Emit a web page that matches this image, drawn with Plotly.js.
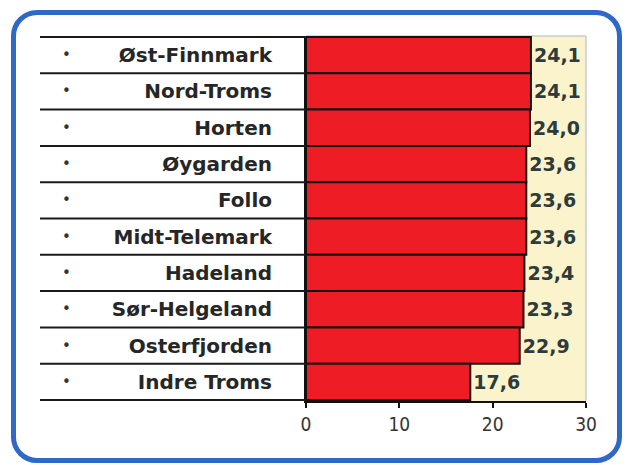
<!DOCTYPE html>
<html>
<head>
<meta charset="utf-8">
<script src="https://cdn.plot.ly/plotly-3.0.1.min.js"></script>
<style>
html,body{margin:0;padding:0;background:#fff;}
#wrap{position:relative;width:629px;height:465px;overflow:hidden;}
#chart{position:absolute;left:0;top:0;width:629px;height:465px;}
#frame{position:absolute;left:11px;top:10px;width:611px;height:453px;box-sizing:border-box;border:5px solid #3068c8;border-radius:26px;pointer-events:none;}
</style>
</head>
<body>
<div id="wrap"><div id="chart"></div><div id="frame"></div></div>
<script>
const regions = ["Øst-Finnmark","Nord-Troms","Horten","Øygarden","Follo","Midt-Telemark","Hadeland","Sør-Helgeland","Osterfjorden","Indre Troms"];
const values = [24.1,24.1,24.0,23.6,23.6,23.6,23.4,23.3,22.9,17.6];
const valueLabels = ["24,1","24,1","24,0","23,6","23,6","23,6","23,4","23,3","22,9","17,6"];
const xTicks = [0,10,20,30];

const shapes = [];
for (let i = 0; i <= regions.length; i++) {
  shapes.push({type:'line', xref:'paper', yref:'y', x0:-0.95, x1:0, y0:i-0.5, y1:i-0.5,
    line:{color:'#1a1a1a', width:2}});
}
shapes.push({type:'line', xref:'paper', yref:'paper', x0:1, x1:1, y0:0, y1:1, line:{color:'#a9b8c4', width:1}});
shapes.push({type:'line', xref:'paper', yref:'paper', x0:0, x1:1, y0:1, y1:1, line:{color:'#a9b8c4', width:1}, layer:'below'});

const annotations = regions.map(r => ({
  xref:'paper', yref:'y', x:-0.854, y:r, text:'•', showarrow:false,
  font:{family:'DejaVu Sans', size:15, color:'#333'}, xanchor:'center', yanchor:'middle'
}));

const trace = {
  type:'bar', orientation:'h', y:regions, x:values,
  text:valueLabels, textposition:'outside', cliponaxis:true,
  textfont:{family:'DejaVu Sans', size:19, color:'#2e3b3a', weight:'bold'},
  marker:{color:'#ee1c24', line:{color:'#111', width:2}},
  hoverinfo:'none'
};

const layout = {
  width:629, height:465,
  margin:{l:306, r:43, t:36, b:64, pad:0},
  paper_bgcolor:'rgba(0,0,0,0)',
  plot_bgcolor:'#fbf3cc',
  bargap:0,
  showlegend:false,
  xaxis:{range:[0,30], tickvals:xTicks, ticktext:xTicks.map(String),
    showgrid:false, zeroline:false, showline:true, linecolor:'#111', linewidth:2,
    ticks:'outside', ticklen:5, tickwidth:2, tickcolor:'#111',
    tickfont:{family:'DejaVu Sans Condensed, DejaVu Sans', size:19, color:'#333'}},
  yaxis:{autorange:'reversed', showgrid:false, zeroline:false, showline:true,
    linecolor:'#111', linewidth:2, ticks:'', ticklabelstandoff:28,
    tickfont:{family:'DejaVu Sans', size:20, color:'#262626', weight:'bold'}},
  shapes:shapes,
  annotations:annotations
};

Plotly.newPlot('chart', [trace], layout, {staticPlot:true, displayModeBar:false});
</script>
</body>
</html>
